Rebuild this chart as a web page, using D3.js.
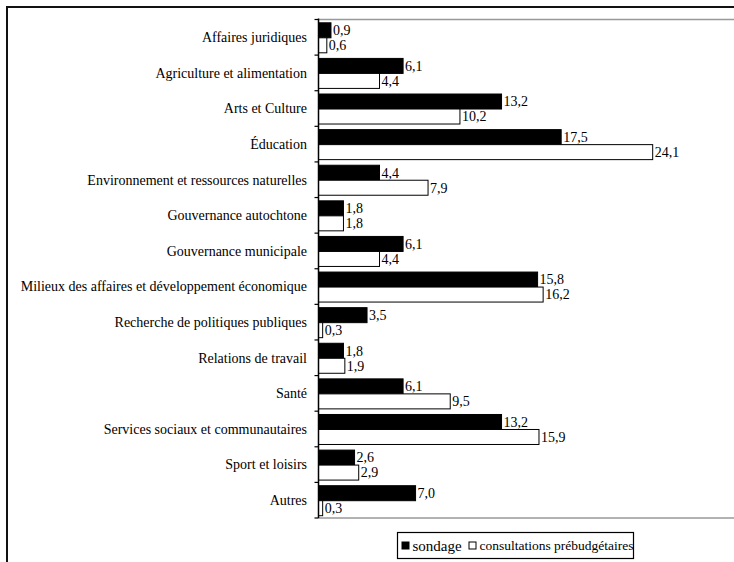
<!DOCTYPE html>
<html>
<head>
<meta charset="utf-8">
<script src="https://cdn.jsdelivr.net/npm/d3@7"></script>
<style>
  body { margin: 0; background: #fff; }
</style>
</head>
<body>
<svg id="chart" width="734" height="562"></svg>
<script>
// data
const categories = [
  "Affaires juridiques",
  "Agriculture et alimentation",
  "Arts et Culture",
  "Éducation",
  "Environnement et ressources naturelles",
  "Gouvernance autochtone",
  "Gouvernance municipale",
  "Milieux des affaires et développement économique",
  "Recherche de politiques publiques",
  "Relations de travail",
  "Santé",
  "Services sociaux et communautaires",
  "Sport et loisirs",
  "Autres"
];
const sondage = [0.9, 6.1, 13.2, 17.5, 4.4, 1.8, 6.1, 15.8, 3.5, 1.8, 6.1, 13.2, 2.6, 7.0];
const consultations = [0.6, 4.4, 10.2, 24.1, 7.9, 1.8, 4.4, 16.2, 0.3, 1.9, 9.5, 15.9, 2.9, 0.3];
const seriesNames = ["sondage", "consultations prébudgétaires"];

const FONT = "'Liberation Serif', 'Times New Roman', serif";
const svg = d3.select("#chart");
const margin = { top: 19.5, left: 318.5, bottom: 518 };
const xScale = d3.scaleLinear().domain([0, 30]).range([margin.left, margin.left + 416]);
const yScale = d3.scaleBand().domain(categories).range([margin.top, margin.bottom]);
const inner = d3.scaleBand().domain(seriesNames).range([0, 30]);
const groupOffset = (yScale.bandwidth() - 30) / 2 + 0.5;

// outer frame
svg.append("rect")
  .attr("x", 7).attr("y", 7).attr("width", 740).attr("height", 570)
  .attr("fill", "none").attr("stroke", "#111").attr("stroke-width", 2);

// plot area top/bottom lines
svg.append("line")
  .attr("x1", margin.left).attr("x2", 734)
  .attr("y1", margin.top).attr("y2", margin.top)
  .attr("stroke", "#999").attr("stroke-width", 1.3);
svg.append("line")
  .attr("x1", margin.left).attr("x2", 734)
  .attr("y1", margin.bottom).attr("y2", margin.bottom)
  .attr("stroke", "#999").attr("stroke-width", 1.3);

// bars
const rows = categories.map((c, i) => ({ cat: c, vals: [sondage[i], consultations[i]] }));
const groups = svg.selectAll("g.row")
  .data(rows)
  .enter()
  .append("g")
  .attr("class", "row")
  .attr("transform", d => `translate(0, ${yScale(d.cat) + groupOffset})`);

groups.selectAll("rect")
  .data(d => d.vals.map((v, j) => ({ key: seriesNames[j], v: v })))
  .enter()
  .append("rect")
  .attr("x", xScale(0))
  .attr("y", d => inner(d.key))
  .attr("width", d => xScale(d.v) - xScale(0))
  .attr("height", inner.bandwidth())
  .attr("fill", d => d.key === "sondage" ? "#000" : "#fff")
  .attr("stroke", "#000")
  .attr("stroke-width", 1);

groups.selectAll("text.val")
  .data(d => d.vals.map((v, j) => ({ key: seriesNames[j], v: v })))
  .enter()
  .append("text")
  .attr("class", "val")
  .attr("x", d => xScale(d.v) + 2)
  .attr("y", d => inner(d.key) + inner.bandwidth() / 2)
  .attr("dy", "0.35em")
  .style("font-family", FONT)
  .style("font-size", "14px")
  .text(d => d3.format(".1f")(d.v).replace(".", ","));

// y axis with ticks at category boundaries
svg.append("line")
  .attr("x1", margin.left).attr("x2", margin.left)
  .attr("y1", margin.top - 1).attr("y2", margin.bottom)
  .attr("stroke", "#000").attr("stroke-width", 1.5);
const boundaries = categories.map(c => yScale(c)).concat([margin.bottom]);
svg.selectAll("line.tick")
  .data(boundaries)
  .enter()
  .append("line")
  .attr("class", "tick")
  .attr("x1", margin.left - 4).attr("x2", margin.left)
  .attr("y1", d => d).attr("y2", d => d)
  .attr("stroke", "#000").attr("stroke-width", 1.2);

svg.selectAll("text.cat")
  .data(categories)
  .enter()
  .append("text")
  .attr("class", "cat")
  .attr("x", 307)
  .attr("y", d => yScale(d) + yScale.bandwidth() / 2)
  .attr("dy", "0.35em")
  .attr("text-anchor", "end")
  .style("font-family", FONT)
  .style("font-size", "14px")
  .text(d => d);

// legend
const legend = svg.append("g").attr("transform", "translate(397.5, 532.5)");
legend.append("rect")
  .attr("width", 236).attr("height", 26)
  .attr("fill", "#fff").attr("stroke", "#000").attr("stroke-width", 1.2);
legend.append("rect")
  .attr("x", 4.5).attr("y", 9.5).attr("width", 7).attr("height", 7)
  .attr("fill", "#000").attr("stroke", "#000");
legend.append("text")
  .attr("x", 15).attr("y", 13).attr("dy", "0.35em")
  .style("font-family", FONT)
  .style("font-size", "15px")
  .text(seriesNames[0]);
legend.append("rect")
  .attr("x", 71.5).attr("y", 9.5).attr("width", 7).attr("height", 7)
  .attr("fill", "#fff").attr("stroke", "#000");
legend.append("text")
  .attr("x", 82).attr("y", 13).attr("dy", "0.35em")
  .style("font-family", FONT)
  .style("font-size", "13.5px")
  .text(seriesNames[1]);
</script>
</body>
</html>
